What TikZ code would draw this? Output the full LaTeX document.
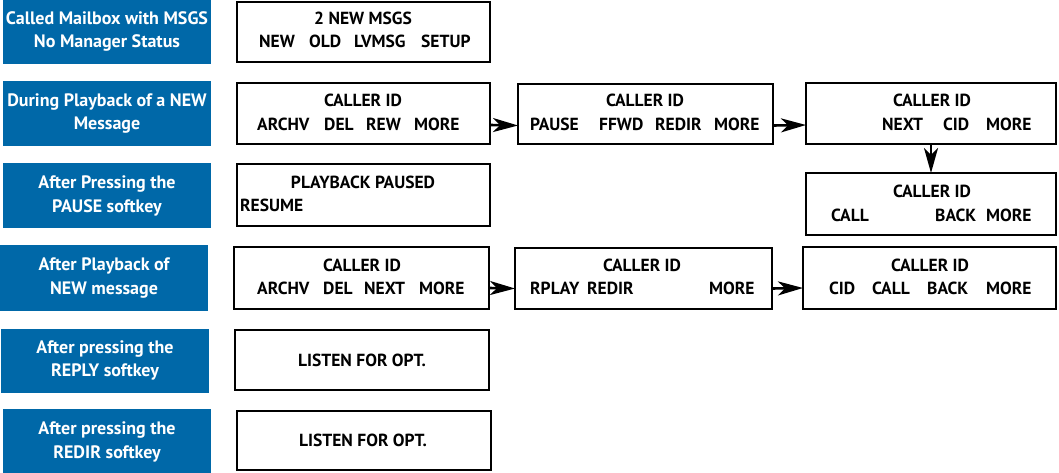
\documentclass[tikz,border=0pt]{standalone}
\usepackage{fontspec}
\setmainfont{PT Sans}
\usetikzlibrary{arrows.meta}
\definecolor{lblue}{HTML}{0068A8}
\newcommand\bx[6][wbox]{\node[#1,minimum width={(#5-#3)*1pt},minimum height={(#6-#4)*1pt}] (#2) at ({(#3+#5)/2},{(#4+#6)/2}) {};}
\begin{document}
\begin{tikzpicture}[x=1pt,y=-1pt,
 wbox/.style={draw=black,line width=2.8pt,fill=white,inner sep=0pt,outer sep=0pt},
 bbox/.style={fill=lblue,inner sep=0pt,outer sep=0pt},
 t/.style={font=\fontsize{17.5}{20}\selectfont\bfseries,inner sep=0pt,anchor=base},
 tl/.style={t,anchor=base west},
 lt/.style={t,font=\fontsize{18}{21}\selectfont\bfseries,text=white},
 arr/.style={line width=2.6pt,-{Stealth[length=25pt,width=14pt,inset=7pt]}}]
\useasboundingbox (0,0) rectangle (1059,473);
% blue labels
\bx[bbox]{l1}{3}{0}{211}{64}
\bx[bbox]{l2}{3}{81}{211}{146}
\bx[bbox]{l3}{3}{163}{211}{228}
\bx[bbox]{l4}{0}{245}{208}{311}
\bx[bbox]{l5}{1}{329}{209}{393}
\bx[bbox]{l6}{3}{409}{211}{473}
\node[lt] (l1a) at (107,25) {Called Mailbox with MSGS};
\node[lt] (l1b) at (107,48) {No Manager Status};
\node[lt] (l2a) at (107,107) {During Playback of a NEW};
\node[lt] (l2b) at (107,130) {Message};
\node[lt] (l3a) at (107,188) {After Pressing the};
\node[lt] (l3b) at (107,212) {PAUSE softkey};
\node[lt] (l4a) at (104,270) {After Playback of};
\node[lt] (l4b) at (104,294) {NEW message};
\node[lt] (l5a) at (105,353) {After pressing the};
\node[lt] (l5b) at (105,376) {REPLY softkey};
\node[lt] (l6a) at (107,434) {After pressing the};
\node[lt] (l6b) at (107,458) {REDIR softkey};
% white boxes
\bx{b1}{237}{2}{490}{62}
\bx{b21}{237}{83}{490}{144}
\bx{b22}{518}{84}{773}{144}
\bx{b23}{806}{83}{1056}{144}
\bx{b31}{237}{164}{490}{226}
\bx{b32}{806}{173}{1056}{235}
\bx{b41}{234}{247}{489}{309}
\bx{b42}{515}{248}{772}{309}
\bx{b43}{803}{247}{1056}{309}
\bx{b5}{235}{330}{489}{390}
\bx{b6}{237}{411}{491}{470}
% row 1
\node[t] (t1) at (363,25) {2 NEW MSGS};
\node[tl] (t1a) at (259,48) {NEW};
\node[tl] (t1b) at (309,48) {OLD};
\node[tl] (t1c) at (354,48) {LVMSG};
\node[tl] (t1d) at (421,48) {SETUP};
% row 2
\node[t] (t21) at (363,107) {CALLER ID};
\node[tl] (t21a) at (257,131) {ARCHV};
\node[tl] (t21b) at (324,131) {DEL};
\node[tl] (t21c) at (366,131) {REW};
\node[tl] (t21d) at (414,131) {MORE};
\node[t] (t22) at (645,107) {CALLER ID};
\node[tl] (t22a) at (530,131) {PAUSE};
\node[tl] (t22b) at (599,131) {FFWD};
\node[tl] (t22c) at (655,131) {REDIR};
\node[tl] (t22d) at (714,131) {MORE};
\node[t] (t23) at (932,107) {CALLER ID};
\node[tl] (t23a) at (882,131) {NEXT};
\node[tl] (t23b) at (943,131) {CID};
\node[tl] (t23c) at (986,131) {MORE};
% row 3
\node[t] (t31) at (363,188) {PLAYBACK PAUSED};
\node[tl] (t31a) at (240,211) {RESUME};
\node[t] (t32) at (932,197) {CALLER ID};
\node[tl] (t32a) at (831,221) {CALL};
\node[tl] (t32b) at (935,221) {BACK};
\node[tl] (t32c) at (986,221) {MORE};
% row 4
\node[t] (t41) at (362,271) {CALLER ID};
\node[tl] (t41a) at (257,294) {ARCHV};
\node[tl] (t41b) at (323,294) {DEL};
\node[tl] (t41c) at (364,294) {NEXT};
\node[tl] (t41d) at (419,294) {MORE};
\node[t] (t42) at (642,271) {CALLER ID};
\node[tl] (t42a) at (530,294) {RPLAY};
\node[tl] (t42b) at (587,294) {REDIR};
\node[tl] (t42c) at (709,294) {MORE};
\node[t] (t43) at (930,271) {CALLER ID};
\node[tl] (t43a) at (829,294) {CID};
\node[tl] (t43b) at (872,294) {CALL};
\node[tl] (t43c) at (927,294) {BACK};
\node[tl] (t43d) at (986,294) {MORE};
% rows 5, 6
\node[t] (t5) at (362,366) {LISTEN FOR OPT.};
\node[t] (t6) at (363,446) {LISTEN FOR OPT.};
% connectors
\draw[arr] ([yshift=-11.5pt]b21.east) -- ([yshift=-11.5pt]b22.west);
\draw[arr] ([yshift=-11.5pt]b22.east) -- ([yshift=-11.5pt]b23.west);
\draw[arr] (b23.south) -- (b32.north);
\draw[arr] ([yshift=-10pt]b41.east) -- ([yshift=-10pt]b42.west);
\draw[arr] ([yshift=-10pt]b42.east) -- ([yshift=-10pt]b43.west);
\end{tikzpicture}
\end{document}
